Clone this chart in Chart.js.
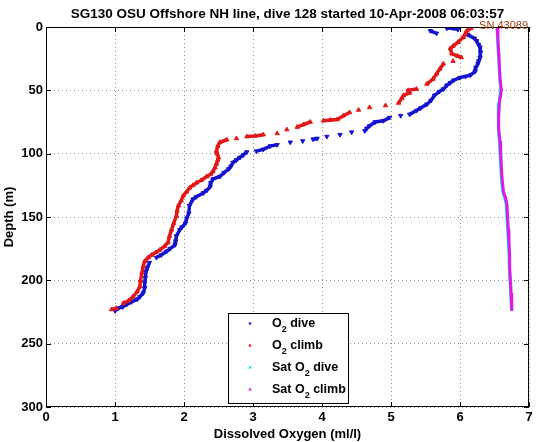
<!DOCTYPE html>
<html>
<head>
<meta charset="utf-8">
<title>SG130 dive 128 - dissolved oxygen</title>
<script src="https://cdn.jsdelivr.net/npm/chart.js@4.4.1/dist/chart.umd.min.js"></script>
<style>
    html, body { margin: 0; padding: 0; background: #fff; }
    #wrap { width: 537px; height: 442px; }
</style>
</head>
<body>
<div id="wrap"><canvas id="oxyChart" width="537" height="442"></canvas></div>
<script>
// ---- data ----
const chartTitle = 'SG130 OSU Offshore NH line, dive 128 started 10-Apr-2008 06:03:57';
const serialLabel = 'SN 43089';

const xTickValues = [0, 1, 2, 3, 4, 5, 6, 7];
const yTickValues = [0, 50, 100, 150, 200, 250, 300];

// O2 on the way down (blue)
const diveDepth = [1, 1, 2, 3, 5, 6, 9, 11, 14, 16, 20, 24, 27, 29, 32, 35, 38, 39, 40, 42,
    44, 46, 49, 51, 54, 58, 61, 64, 66, 69, 70, 71.5, 74, 75, 78, 80, 82, 83, 85, 86.5,
    88, 88.6, 90, 91, 93, 94, 96.6, 98, 98.7, 101, 103, 105, 107, 110, 112, 115, 118, 120, 123, 126,
    129, 131, 134, 136, 141, 147, 151, 155, 158, 160, 165, 169, 172, 175, 177, 180, 182, 186, 190, 193,
    198, 202, 206, 210, 213, 215, 217, 219, 221, 222, 224];
const diveO2 = [5.81, 5.90, 5.97, 5.57, 5.66, 6.11, 6.21, 6.24, 6.27, 6.29, 6.30, 6.29, 6.27, 6.26, 6.23, 6.22, 6.15, 6.08, 6.00, 5.91,
    5.86, 5.81, 5.76, 5.70, 5.63, 5.58, 5.52, 5.43, 5.37, 5.27, 5.14, 4.98, 4.89, 4.77, 4.69, 4.65, 4.62, 4.43, 4.26, 4.07,
    3.93, 3.87, 3.72, 3.54, 3.35, 3.25, 3.15, 3.05, 2.91, 2.86, 2.81, 2.76, 2.71, 2.68, 2.65, 2.58, 2.52, 2.42, 2.39, 2.38,
    2.33, 2.28, 2.18, 2.13, 2.08, 2.07, 2.04, 2.02, 1.97, 1.94, 1.89, 1.88, 1.87, 1.80, 1.75, 1.67, 1.60, 1.50, 1.47, 1.45,
    1.44, 1.43, 1.43, 1.41, 1.36, 1.32, 1.24, 1.17, 1.11, 1.05, 1.00];

// O2 on the way up (red)
const climbDepth = [223, 222, 218, 216, 213, 209, 205, 200, 194, 189, 185, 182, 180, 178, 176, 173, 170, 165, 160, 155,
    149, 145, 141, 137, 133, 130, 127, 125, 123, 121, 118, 116, 114, 111, 108, 105, 103, 100, 98, 94,
    91, 89, 88, 86.5, 86, 85, 84, 81, 79, 77, 75, 74, 73.5, 73, 70, 67.5, 65.5, 63.5, 62, 60,
    56, 54, 52, 50, 49, 45, 41, 37, 33, 29, 27, 24, 23, 21, 17, 15, 12, 8, 5, 3, 1];
const climbO2 = [0.95, 1.02, 1.12, 1.20, 1.26, 1.32, 1.36, 1.37, 1.39, 1.41, 1.43, 1.48, 1.53, 1.59, 1.65, 1.72, 1.77, 1.79, 1.82, 1.85,
    1.89, 1.90, 1.92, 1.96, 1.99, 2.04, 2.08, 2.13, 2.18, 2.25, 2.33, 2.39, 2.42, 2.45, 2.47, 2.49, 2.50, 2.48, 2.47, 2.49,
    2.52, 2.62, 2.76, 2.91, 3.03, 3.15, 3.35, 3.49, 3.64, 3.73, 3.83, 4.02, 4.12, 4.22, 4.31, 4.40, 4.53, 4.69, 4.92, 5.11,
    5.16, 5.18, 5.27, 5.25, 5.37, 5.52, 5.61, 5.66, 5.71, 5.76, 5.90, 6.02, 5.97, 5.88, 5.86, 5.90, 5.97, 6.05, 6.08, 6.10, 6.16];

// saturation O2 (cyan dive, magenta climb)
const satDepth = [0, 10, 20, 30, 40, 50, 60, 70, 80, 90, 100, 110, 120, 130, 135, 140, 150, 160, 170, 180, 190, 200, 210, 220, 224];
const satDiveO2 = [6.535, 6.545, 6.555, 6.565, 6.575, 6.59, 6.565, 6.555, 6.555, 6.57, 6.58, 6.59, 6.60, 6.62, 6.65, 6.67, 6.68, 6.69, 6.70, 6.71, 6.715, 6.725, 6.735, 6.745, 6.75];
const satClimbO2 = [6.54, 6.55, 6.56, 6.57, 6.58, 6.60, 6.57, 6.56, 6.56, 6.58, 6.59, 6.60, 6.61, 6.63, 6.66, 6.68, 6.69, 6.70, 6.71, 6.72, 6.72, 6.73, 6.74, 6.75, 6.75];

const FONT = '"Liberation Sans", Arial, Helvetica, sans-serif';
const BLUE = 'rgb(20, 20, 205)';
const RED = 'rgb(225, 25, 25)';
const CYAN = 'rgb(0, 225, 255)';
const MAGENTA = 'rgb(225, 25, 230)';

// legend rows: big text, subscript, trailing text
const legendRows = [
    { color: BLUE, rot: 180, head: 'O', sub: '2', tail: ' dive' },
    { color: RED, rot: 0, head: 'O', sub: '2', tail: ' climb' },
    { color: CYAN, rot: 0, head: 'Sat O', sub: '2', tail: ' dive' },
    { color: MAGENTA, rot: 0, head: 'Sat O', sub: '2', tail: ' climb' }
];

document.addEventListener('DOMContentLoaded', function() {
    Chart.defaults.font.family = FONT;
    Chart.defaults.color = '#000';
    buildChart();
});

function toPoints(xs, ys) {
    return xs.map((v, i) => ({ x: v, y: ys[i] }));
}

/**
 * Leave out line pieces across sparse stretches so they read as dots
 */
function gapColor(ctx, color) {
    const d = Math.hypot(ctx.p1.x - ctx.p0.x, ctx.p1.y - ctx.p0.y);
    return d > 8.5 ? 'rgba(0,0,0,0)' : color;
}

function drawTri(ctx, x, y, r, rot) {
    ctx.save();
    ctx.translate(x, y);
    ctx.rotate(rot * Math.PI / 180);
    ctx.beginPath();
    ctx.moveTo(0, -r);
    ctx.lineTo(r * 0.87, r * 0.5);
    ctx.lineTo(-r * 0.87, r * 0.5);
    ctx.closePath();
    ctx.fill();
    ctx.restore();
}

/**
 * Matlab-like frame, inward ticks, title, serial label and legend box
 */
const matlabFrame = {
    id: 'matlabFrame',
    afterDatasetsDraw(chart) {
        const { ctx, chartArea: area, scales } = chart;
        ctx.save();
        ctx.strokeStyle = '#000';
        ctx.lineWidth = 1;
        ctx.strokeRect(area.left + 0.5, area.top + 0.5, area.width - 1, area.height - 1);

        ctx.beginPath();
        scales.x.ticks.forEach(t => {
            const px = Math.round(scales.x.getPixelForValue(t.value)) + 0.5;
            ctx.moveTo(px, area.bottom);
            ctx.lineTo(px, area.bottom - 5);
            ctx.moveTo(px, area.top);
            ctx.lineTo(px, area.top + 5);
        });
        scales.y.ticks.forEach(t => {
            const py = Math.round(scales.y.getPixelForValue(t.value)) + 0.5;
            ctx.moveTo(area.left, py);
            ctx.lineTo(area.left + 5, py);
            ctx.moveTo(area.right, py);
            ctx.lineTo(area.right - 5, py);
        });
        ctx.stroke();
        ctx.restore();
    },
    afterDraw(chart) {
        const { ctx, chartArea: area } = chart;
        const cx = (area.left + area.right) / 2;
        ctx.save();

        // title
        ctx.fillStyle = '#000';
        ctx.font = 'bold 13.5px ' + FONT;
        ctx.textAlign = 'center';
        ctx.textBaseline = 'middle';
        ctx.fillText(chartTitle, cx, 14);

        // serial number, top right
        ctx.fillStyle = 'rgb(160, 60, 10)';
        ctx.font = '11px ' + FONT;
        ctx.textAlign = 'right';
        ctx.textBaseline = 'alphabetic';
        ctx.fillText(serialLabel, area.right - 1, area.top + 1.5);

        // legend, bottom centre of the axes
        const w = 120, h = 90;
        const lx = Math.round(cx - w / 2), ly = area.bottom - 4 - h;
        ctx.fillStyle = '#fff';
        ctx.fillRect(lx, ly, w, h);
        ctx.strokeStyle = '#000';
        ctx.lineWidth = 1;
        ctx.strokeRect(lx + 0.5, ly + 0.5, w, h);

        ctx.textAlign = 'left';
        legendRows.forEach((row, i) => {
            const my = ly + 10.5 + i * 22;
            ctx.fillStyle = row.color;
            drawTri(ctx, lx + 22, my, 2, row.rot);

            ctx.fillStyle = '#000';
            let tx = lx + 44;
            ctx.font = 'bold 12.5px ' + FONT;
            ctx.fillText(row.head, tx, my + 3.5);
            tx += ctx.measureText(row.head).width;
            ctx.font = 'bold 9px ' + FONT;
            ctx.fillText(row.sub, tx, my + 8.5);
            tx += ctx.measureText(row.sub).width;
            ctx.font = 'bold 12.5px ' + FONT;
            ctx.fillText(row.tail, tx, my + 3.5);
        });
        ctx.restore();
    }
};

function buildChart() {
    const ctx = document.getElementById('oxyChart').getContext('2d');
    const gridOpts = { color: '#8c8c8c', lineWidth: 1, drawTicks: false };
    const borderOpts = { display: false, dash: [1, 3] };

    new Chart(ctx, {
        type: 'scatter',
        data: {
            datasets: [
                {
                    label: 'O2 dive',
                    data: toPoints(diveO2, diveDepth),
                    showLine: true,
                    borderColor: BLUE,
                    borderWidth: 3.5,
                    segment: { borderColor: c => gapColor(c, BLUE) },
                    pointStyle: 'triangle',
                    pointRotation: 180,
                    pointRadius: 2.5,
                    pointBackgroundColor: BLUE,
                    pointBorderColor: BLUE,
                    pointBorderWidth: 1,
                    order: 4
                },
                {
                    label: 'O2 climb',
                    data: toPoints(climbO2, climbDepth),
                    showLine: true,
                    borderColor: RED,
                    borderWidth: 3.5,
                    segment: { borderColor: c => gapColor(c, RED) },
                    pointStyle: 'triangle',
                    pointRadius: 2.5,
                    pointBackgroundColor: RED,
                    pointBorderColor: RED,
                    pointBorderWidth: 1,
                    order: 3
                },
                {
                    label: 'Sat O2 dive',
                    data: toPoints(satDiveO2, satDepth),
                    showLine: true,
                    borderColor: CYAN,
                    borderWidth: 3,
                    pointRadius: 0,
                    order: 2
                },
                {
                    label: 'Sat O2 climb',
                    data: toPoints(satClimbO2, satDepth),
                    showLine: true,
                    borderColor: MAGENTA,
                    borderWidth: 3,
                    pointRadius: 0,
                    order: 1
                }
            ]
        },
        options: {
            responsive: false,
            animation: false,
            layout: { padding: { top: 27, right: 8, bottom: 0, left: 0 } },
            plugins: {
                legend: { display: false },
                tooltip: { enabled: false },
                title: { display: false }
            },
            scales: {
                x: {
                    type: 'linear',
                    position: 'bottom',
                    min: 0,
                    max: 7,
                    afterBuildTicks: axis => { axis.ticks = xTickValues.map(v => ({ value: v })); },
                    afterFit: axis => { axis.height = 35; },
                    ticks: { color: '#000', font: { size: 13, weight: 'bold' }, padding: 3, maxRotation: 0, autoSkip: false },
                    grid: gridOpts,
                    border: borderOpts,
                    title: {
                        display: true,
                        text: 'Dissolved Oxygen (ml/l)',
                        color: '#000',
                        font: { size: 13, weight: 'bold' },
                        padding: { top: 0, bottom: 0 }
                    }
                },
                y: {
                    type: 'linear',
                    reverse: true,
                    min: 0,
                    max: 300,
                    afterBuildTicks: axis => { axis.ticks = yTickValues.map(v => ({ value: v })); },
                    afterFit: axis => { axis.width = 46; },
                    ticks: { color: '#000', font: { size: 13, weight: 'bold' }, padding: 3 },
                    grid: gridOpts,
                    border: borderOpts,
                    title: {
                        display: true,
                        text: 'Depth (m)',
                        color: '#000',
                        font: { size: 13, weight: 'bold' },
                        padding: { top: 2, bottom: 0 }
                    }
                }
            }
        },
        plugins: [matlabFrame]
    });
}
</script>
</body>
</html>
